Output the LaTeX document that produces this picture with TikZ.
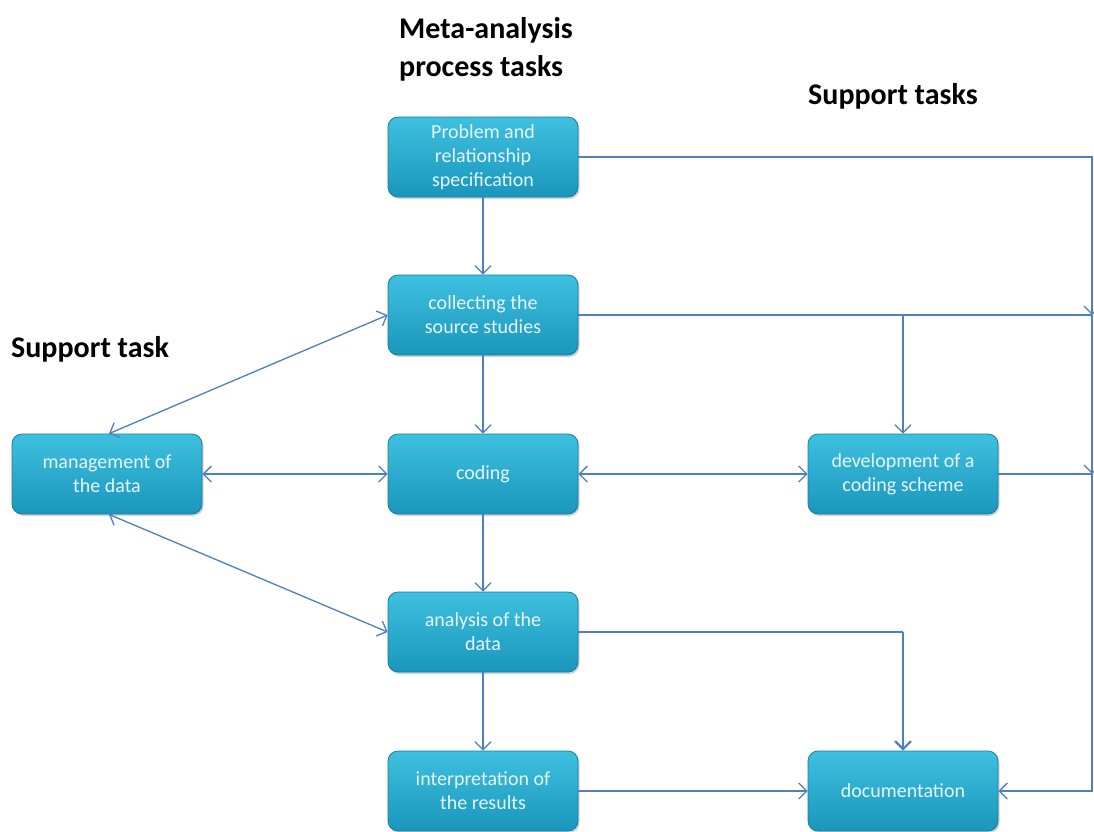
\documentclass[tikz,border=0pt]{standalone}
\usepackage{fontspec}
\setmainfont{Carlito}
\usetikzlibrary{arrows.meta,shadows,calc}
\definecolor{lnc}{HTML}{4F7FBE}
\definecolor{boxtop}{HTML}{3FC0E0}
\definecolor{boxbot}{HTML}{1A96BC}
\definecolor{boxdraw}{HTML}{177E9E}
\definecolor{boxtxt}{HTML}{E6F6FA}
\begin{document}
\begin{tikzpicture}[x=1pt,y=-1pt,
  taskbox/.style={rectangle, rounded corners=10pt, minimum width=190pt, minimum height=80pt,
    top color=boxtop, bottom color=boxbot, draw=boxdraw, line width=0.8pt,
    drop shadow={shadow xshift=1.5pt,shadow yshift=-2pt,opacity=0.35},
    text=boxtxt, align=center, font=\fontsize{20}{24}\selectfont, inner sep=2pt},
  heading/.style={font=\fontsize{30}{38}\selectfont\bfseries, align=left, anchor=base west, inner sep=0pt},
  conn/.style={draw=lnc, line width=1.3pt},
  tip/.style={-{Straight Barb[length=8pt,width=16pt,line width=1.3pt]}},
  tips/.style={{Straight Barb[length=8pt,width=16pt,line width=1.3pt]}-{Straight Barb[length=8pt,width=16pt,line width=1.3pt]}}
]
\useasboundingbox (0,0) rectangle (1094,831);
\fill[white] (0,0) rectangle (1094,831);

\node[heading] (h1) at (399,76) {Meta-analysis\\process tasks};
\node[heading] (h2) at (808,104) {Support tasks};
\node[heading] (h3) at (11,357) {Support task};

\node[taskbox] (P) at (483,157) {Problem and\\relationship\\specification};
\node[taskbox] (C) at (483,315) {collecting the\\source studies};
\node[taskbox] (K) at (483,474) {coding};
\node[taskbox] (A) at (483,632) {analysis of the\\data};
\node[taskbox] (I) at (483,791) {interpretation of\\the results};
\node[taskbox] (M) at (107,474) {management of\\the data};
\node[taskbox] (D) at (903,474) {development of a\\coding scheme};
\node[taskbox] (O) at (903,791) {documentation};

\coordinate (b1) at (1092,157);
\coordinate (b2) at (1092,315);
\coordinate (b3) at (1092,474);
\coordinate (s1) at (903,315);
\coordinate (a1) at (903,632);

\draw[conn,tip] (P) -- (C);
\draw[conn,tip] (C) -- (K);
\draw[conn,tip] (K) -- (A);
\draw[conn,tip] (A) -- (I);

\draw[conn,tips] (M) -- (K);
\draw[conn,tips] (K) -- (D);
\draw[conn,tips] ($(M.north)+(2,0)$) -- (C.west);
\draw[conn,tips] ($(M.south)+(2,0)$) -- (A.west);

\draw[conn,tip] (P.east) -- (b1) -- (b2);
\draw[conn] (C.east) -- (b2);
\draw[conn,tip] (s1) -- (D.north);
\draw[conn,tip] (b2) -- (b3);
\draw[conn] (D.east) -- (b3);
\draw[conn,tip] (b3) |- (O.east);

\draw[conn] (A.east) -- (a1);
\draw[conn,line width=1.8pt,-{Straight Barb[length=8pt,width=16pt,line width=2.2pt]}] (a1) -- (O.north);
\draw[conn,tip] (I) -- (O);
\end{tikzpicture}
\end{document}
